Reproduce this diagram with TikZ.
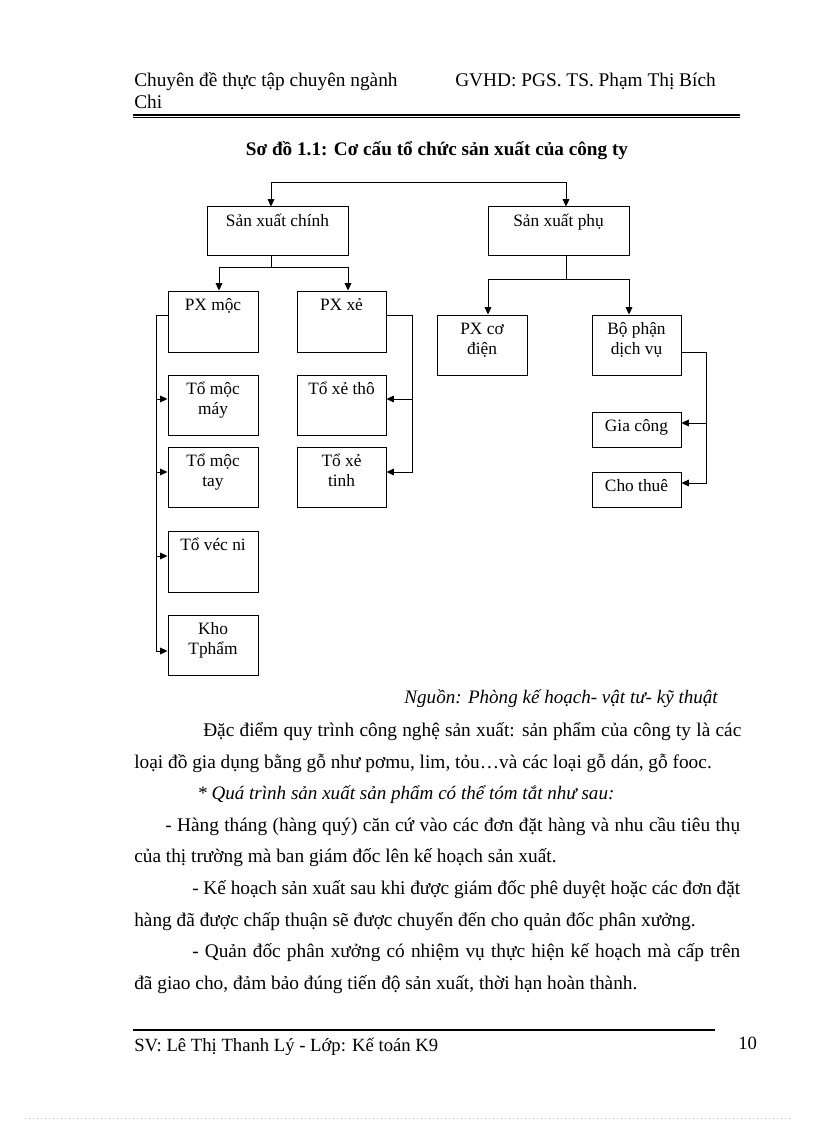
\documentclass[tikz,border=0pt]{standalone}
\usepackage{fontspec}
\setmainfont{Liberation Serif}
\usetikzlibrary{arrows.meta,calc}
\newcommand\mybox[6]{%
  \node[boxst, minimum width=#4, minimum height=#5] (#1) at (#2,#3) {};
  \node[boxtxt] (#1t) at ($(#1.north)+(0,20)$) {\parbox[t]{#4}{\centering #6}};
}
\begin{document}
\begin{tikzpicture}[x=0.75pt,y=-0.75pt,
  boxst/.style={draw, line width=0.75pt, inner sep=0pt, rectangle},
  boxtxt/.style={font=\fontsize{13}{15}\selectfont, inner sep=0pt, anchor=base},
  conn/.style={line width=0.75pt},
  >={Triangle[length=5.5pt,width=5pt]},
  body/.style={font=\fontsize{14.5}{16}\selectfont, inner sep=0pt, anchor=base west},
  bodyit/.style={body, font=\fontsize{14.3}{16}\selectfont\itshape},
]
\useasboundingbox (0,0) rectangle (816,1123);
\fill[white] (0,0) rectangle (816,1123);

% header
\node[body] (h1) at (134,86.7) {Chuyên đề thực tập chuyên ngành};
\node[body] (h2) at (455,86.7) {GVHD: PGS. TS. Phạm Thị Bích};
\node[body] (h3) at (134,108.3) {Chi};
\draw[line width=1pt] (133,115) -- (740,115);
\draw[line width=0.75pt] (133,117.6) -- (740,117.6);

% title
\node[body, font=\fontsize{14.4}{16}\selectfont\bfseries, anchor=base] (title) at (437,155.7) {Sơ đồ 1.1: Cơ cấu tổ chức sản xuất của công ty};

% boxes
\mybox{sxc}{277.5}{231}{105.75pt}{36pt}{Sản xuất chính}
\mybox{sxp}{558.5}{231}{105.75pt}{36pt}{Sản xuất phụ}
\mybox{pxm}{213}{321.5}{67.5pt}{45.75pt}{PX mộc}
\mybox{pxx}{341.5}{321.5}{66.75pt}{45.75pt}{PX xẻ}
\mybox{tmm}{213}{405}{67.5pt}{45pt}{Tổ mộc\\máy}
\mybox{txt}{341.5}{405}{66.75pt}{45pt}{Tổ xẻ thô}
\mybox{tmt}{213}{477}{67.5pt}{45pt}{Tổ mộc\\tay}
\mybox{txn}{341.5}{477}{66.75pt}{45pt}{Tổ xẻ\\tinh}
\mybox{tvn}{213}{561.5}{67.5pt}{45.75pt}{Tổ véc ni}
\mybox{kho}{213}{645}{67.5pt}{45pt}{Kho\\Tphẩm}
\mybox{pxc}{482}{345}{67.5pt}{45pt}{PX cơ\\điện}
\mybox{bpd}{636.5}{345}{66.75pt}{45pt}{Bộ phận\\dịch vụ}
\mybox{gcg}{636.5}{429.5}{66.75pt}{26.25pt}{Gia công}
\mybox{cth}{636.5}{489.5}{66.75pt}{26.25pt}{Cho thuê}

% junction coordinates
\coordinate (ta) at (271,183);
\coordinate (tb) at (566,183);
\coordinate (ma) at (271,267);
\coordinate (mL) at (219,267);
\coordinate (mR) at (348,267);
\coordinate (mb) at (566,279);
\coordinate (nL) at (488,279);
\coordinate (nR) at (629,279);
\coordinate (lA) at (156,315);
\coordinate (l1) at (156,399);
\coordinate (l2) at (156,472);
\coordinate (l3) at (156,556);
\coordinate (lB) at (156,651);
\coordinate (rA) at (412,315);
\coordinate (r1) at (412,399);
\coordinate (rB) at (412,472);
\coordinate (sA) at (706,352);
\coordinate (s1) at (706,423);
\coordinate (sB) at (706,483);

% connectors
\draw[conn,<->] (ta |- sxc.north) -- (ta) -- (tb) -- (tb |- sxp.north);
\draw[conn] (ma |- sxc.south) -- (ma);
\draw[conn,<->] (mL |- pxm.north) -- (mL) -- (mR) -- (mR |- pxx.north);
\draw[conn] (mb |- sxp.south) -- (mb);
\draw[conn,<->] (nL |- pxc.north) -- (nL) -- (nR) -- (nR |- bpd.north);

\draw[conn,->] (lA -| pxm.west) -- (lA) -- (lB) -- (lB -| kho.west);
\draw[conn,->] (l1) -- (l1 -| tmm.west);
\draw[conn,->] (l2) -- (l2 -| tmt.west);
\draw[conn,->] (l3) -- (l3 -| tvn.west);

\draw[conn,->] (rA -| pxx.east) -- (rA) -- (rB) -- (rB -| txn.east);
\draw[conn,->] (r1) -- (r1 -| txt.east);

\draw[conn,->] (sA -| bpd.east) -- (sA) -- (sB) -- (sB -| cth.east);
\draw[conn,->] (s1) -- (s1 -| gcg.east);

% source
\node[bodyit, anchor=base east] (src) at (718,703) {Nguồn: Phòng kế hoạch- vật tư- kỹ thuật};

% paragraphs
\node[body] (p1) at (203,736.5) {\makebox[403.5pt][s]{Đặc điểm quy trình công nghệ sản xuất: sản phẩm của công ty là các}};
\node[body] (p2) at (134,768.1) {loại đồ gia dụng bằng gỗ như pơmu, lim, tỏu…và các loại gỗ dán, gỗ fooc.};
\node[bodyit] (p3) at (197,799.7) {* Quá trình sản xuất sản phẩm có thể tóm tắt như sau:};
\node[body] (p4) at (165,831.3) {\makebox[431.25pt][s]{- Hàng tháng (hàng quý) căn cứ vào các đơn đặt hàng và nhu cầu tiêu thụ}};
\node[body] (p5) at (134,862.9) {của thị trường mà ban giám đốc lên kế hoạch sản xuất.};
\node[body] (p6) at (192,894.5) {\makebox[411pt][s]{- Kế hoạch sản xuất sau khi được giám đốc phê duyệt hoặc các đơn đặt}};
\node[body] (p7) at (134,926.1) {hàng đã được chấp thuận sẽ được chuyển đến cho quản đốc phân xưởng.};
\node[body] (p8) at (192,957.7) {\makebox[411pt][s]{- Quản đốc phân xưởng có nhiệm vụ thực hiện kế hoạch mà cấp trên}};
\node[body] (p9) at (134,989.3) {đã giao cho, đảm bảo đúng tiến độ sản xuất, thời hạn hoàn thành.};

% footer
\draw[line width=1.1pt] (133,1030) -- (715,1030);
\node[body, font=\fontsize{14}{16}\selectfont] (f1) at (134,1051) {SV: Lê Thị Thanh Lý - Lớp: Kế toán K9};
\node[body, font=\fontsize{14}{16}\selectfont] (f2) at (738,1049) {10};
\draw[gray!60, line width=0.5pt, dash pattern=on 0.5pt off 2.5pt] (25,1118) -- (793,1118);
\end{tikzpicture}
\end{document}
